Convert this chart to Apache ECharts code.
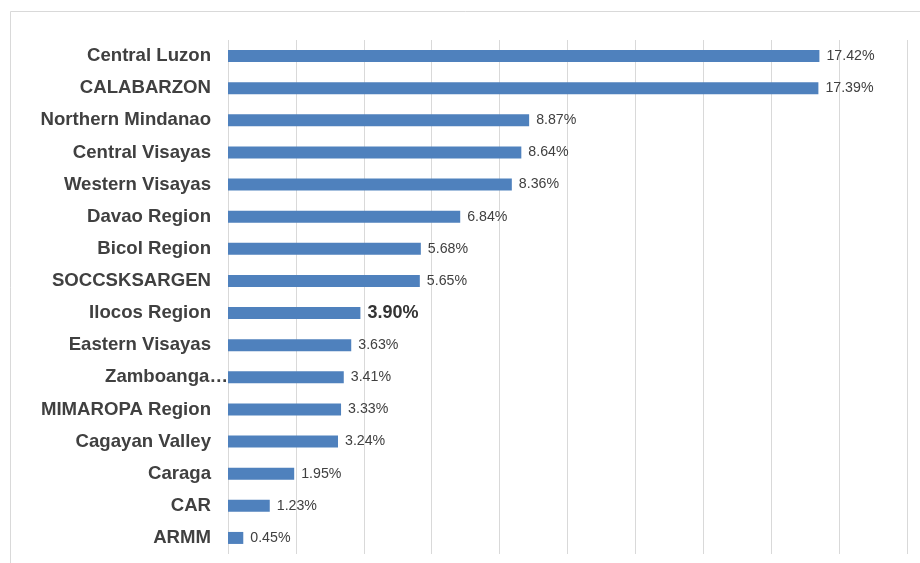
<!DOCTYPE html>
<html>
<head>
<meta charset="utf-8">
<script src="https://cdn.jsdelivr.net/npm/echarts@6/dist/echarts.min.js"></script>
<style>
html, body { margin: 0; padding: 0; background: #fff; }
#main { width: 920px; height: 563px; }
</style>
</head>
<body>
<div id="main"></div>
<script>
// regions, top to bottom
var regions = ['Central Luzon', 'CALABARZON', 'Northern Mindanao', 'Central Visayas', 'Western Visayas',
    'Davao Region', 'Bicol Region', 'SOCCSKSARGEN', 'Ilocos Region', 'Eastern Visayas', 'Zamboanga Peninsula',
    'MIMAROPA Region', 'Cagayan Valley', 'Caraga', 'CAR', 'ARMM'];
var shares = [17.42, 17.39, 8.87, 8.64, 8.36, 6.84, 5.68, 5.65, 3.90, 3.63, 3.41, 3.33, 3.24, 1.95, 1.23, 0.45];
var highlighted = 'Ilocos Region';

var myChart = echarts.init(document.getElementById('main'));

var option = {
    backgroundColor: '#fff',
    animation: false,
    graphic: [{
        type: 'rect',
        shape: { x: 10.5, y: 11.5, width: 1000, height: 1000 },
        style: { fill: 'none', stroke: '#d9d9d9', lineWidth: 1 }
    }],
    grid: { left: 228, right: 13, top: 40, bottom: 9 },
    xAxis: {
        type: 'value',
        min: 0,
        max: 20,
        interval: 2,
        axisLabel: { show: false },
        axisLine: { show: false },
        axisTick: { show: false },
        splitLine: { lineStyle: { color: '#d9d9d9', width: 1 } }
    },
    yAxis: {
        type: 'category',
        inverse: true,
        data: regions,
        axisLine: { show: false },
        axisTick: { show: false },
        axisLabel: {
            margin: 17,
            color: '#404040',
            fontFamily: 'Liberation Sans, Arial, sans-serif',
            fontWeight: 'bold',
            fontSize: 18.6,
            formatter: function (v) {
                if (v.length > 17) return '{z|' + v.slice(0, 9) + '…}';
                return v;
            },
            rich: {
                z: {
                    color: '#404040',
                    fontFamily: 'Liberation Sans, Arial, sans-serif',
                    fontWeight: 'bold',
                    fontSize: 18.6,
                    padding: [0, -17, 0, 0]
                }
            }
        }
    },
    series: [{
        type: 'bar',
        data: shares.map(function (v, i) {
            var d = { value: v };
            if (regions[i] === highlighted) {
                d.label = { fontWeight: 'bold', fontSize: 18, color: '#333' };
            }
            return d;
        }),
        barWidth: 12,
        itemStyle: { color: '#4f81bd' },
        label: {
            show: true,
            position: 'right',
            distance: 7,
            color: '#404040',
            fontFamily: 'Liberation Sans, Arial, sans-serif',
            fontSize: 14.2,
            formatter: function (p) { return p.value.toFixed(2) + '%'; }
        }
    }]
};

myChart.setOption(option);
</script>
</body>
</html>
